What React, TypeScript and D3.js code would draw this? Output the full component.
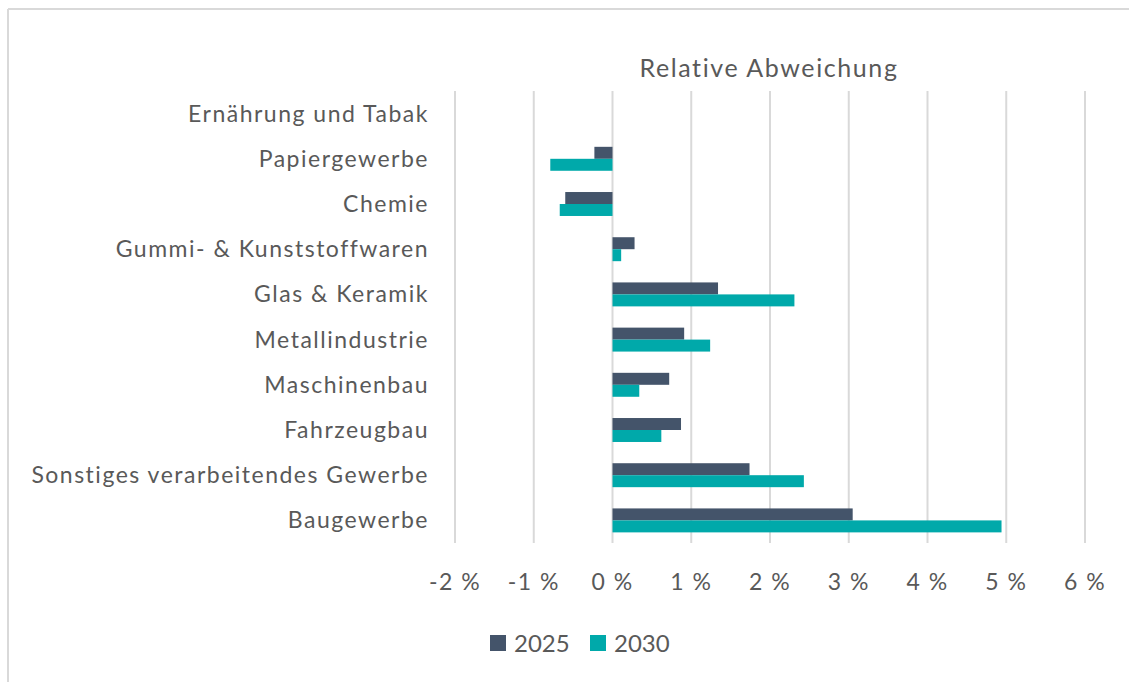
import React from "react";
import * as d3 from "d3";

const categories = [
  "Ernährung und Tabak",
  "Papiergewerbe",
  "Chemie",
  "Gummi- & Kunststoffwaren",
  "Glas & Keramik",
  "Metallindustrie",
  "Maschinenbau",
  "Fahrzeugbau",
  "Sonstiges verarbeitendes Gewerbe",
  "Baugewerbe",
];
const values2025 = [0, -0.0023, -0.006, 0.0028, 0.0134, 0.0091, 0.0072, 0.0087, 0.0174, 0.0305];
const values2030 = [0, -0.0079, -0.0067, 0.0011, 0.0231, 0.0124, 0.0034, 0.0062, 0.0243, 0.0494];
const seriesNames = ["2025", "2030"];
const seriesColors = ["#44546A", "#00A9AA"];
const tickValues = [-0.02, -0.01, 0, 0.01, 0.02, 0.03, 0.04, 0.05, 0.06];
const title = "Relative Abweichung";

export default function App() {
  const W = 1129;
  const H = 682;
  const font = "Lato, Carlito, 'Open Sans', sans-serif";
  const textColor = "#595959";
  const x = d3.scaleLinear().domain([-0.02, 0.06]).range([455, 1085]);
  const y = d3
    .scaleBand<string>()
    .domain(categories)
    .range([91, 543])
    .paddingInner(0.47)
    .paddingOuter(0.235);
  const sub = d3.scaleBand<string>().domain(seriesNames).range([0, y.bandwidth()]);
  const series = [values2025, values2030];
  const fmt = (v: number) => `${d3.format(".0f")(v * 100).replace("\u2212", "-")} %`;
  const [y0, y1] = y.range();

  return (
    <svg
      width={W}
      height={H}
      style={{ position: "absolute", left: 0, top: 0, background: "#fff" }}
      fontFamily={font}
    >
      <rect x={0} y={0} width={W} height={H} fill="#fff" />
      <line x1={8} x2={W} y1={9} y2={9} stroke="#d9d9d9" strokeWidth={2} />
      <line x1={8} x2={8} y1={9} y2={H} stroke="#d9d9d9" strokeWidth={2} />

      <text x={769} y={77} textAnchor="middle" fontSize={25} letterSpacing={1.6} fill={textColor}>
        {title}
      </text>

      {tickValues.map((t) => (
        <line
          key={"g" + t}
          x1={x(t)}
          x2={x(t)}
          y1={y0}
          y2={y1}
          stroke="#d9d9d9"
          strokeWidth={2}
        />
      ))}

      {series.map((vals, si) =>
        categories.map((c, i) => {
          const v = vals[i];
          const x0 = x(Math.min(0, v));
          const w = Math.abs(x(v) - x(0));
          return (
            <rect
              key={si + "-" + c}
              x={x0}
              y={(y(c) as number) + (sub(seriesNames[si]) as number)}
              width={w}
              height={sub.bandwidth()}
              fill={seriesColors[si]}
            />
          );
        })
      )}

      {categories.map((c) => (
        <text
          key={"c" + c}
          x={429}
          y={(y(c) as number) + y.bandwidth() / 2 + 8}
          textAnchor="end"
          fontSize={23}
          letterSpacing={1.5}
          fill={textColor}
        >
          {c}
        </text>
      ))}

      {tickValues.map((t) => (
        <text
          key={"t" + t}
          x={x(t)}
          y={590}
          textAnchor="middle"
          fontSize={23}
          letterSpacing={1.5}
          fill={textColor}
        >
          {fmt(t)}
        </text>
      ))}

      {seriesNames.map((s, i) => {
        const lx = [490, 590][i];
        return (
          <g key={"l" + s}>
            <rect x={lx} y={635} width={16} height={16} fill={seriesColors[i]} />
            <text x={lx + 24} y={652} fontSize={24} fill={textColor}>
              {s}
            </text>
          </g>
        );
      })}
    </svg>
  );
}
